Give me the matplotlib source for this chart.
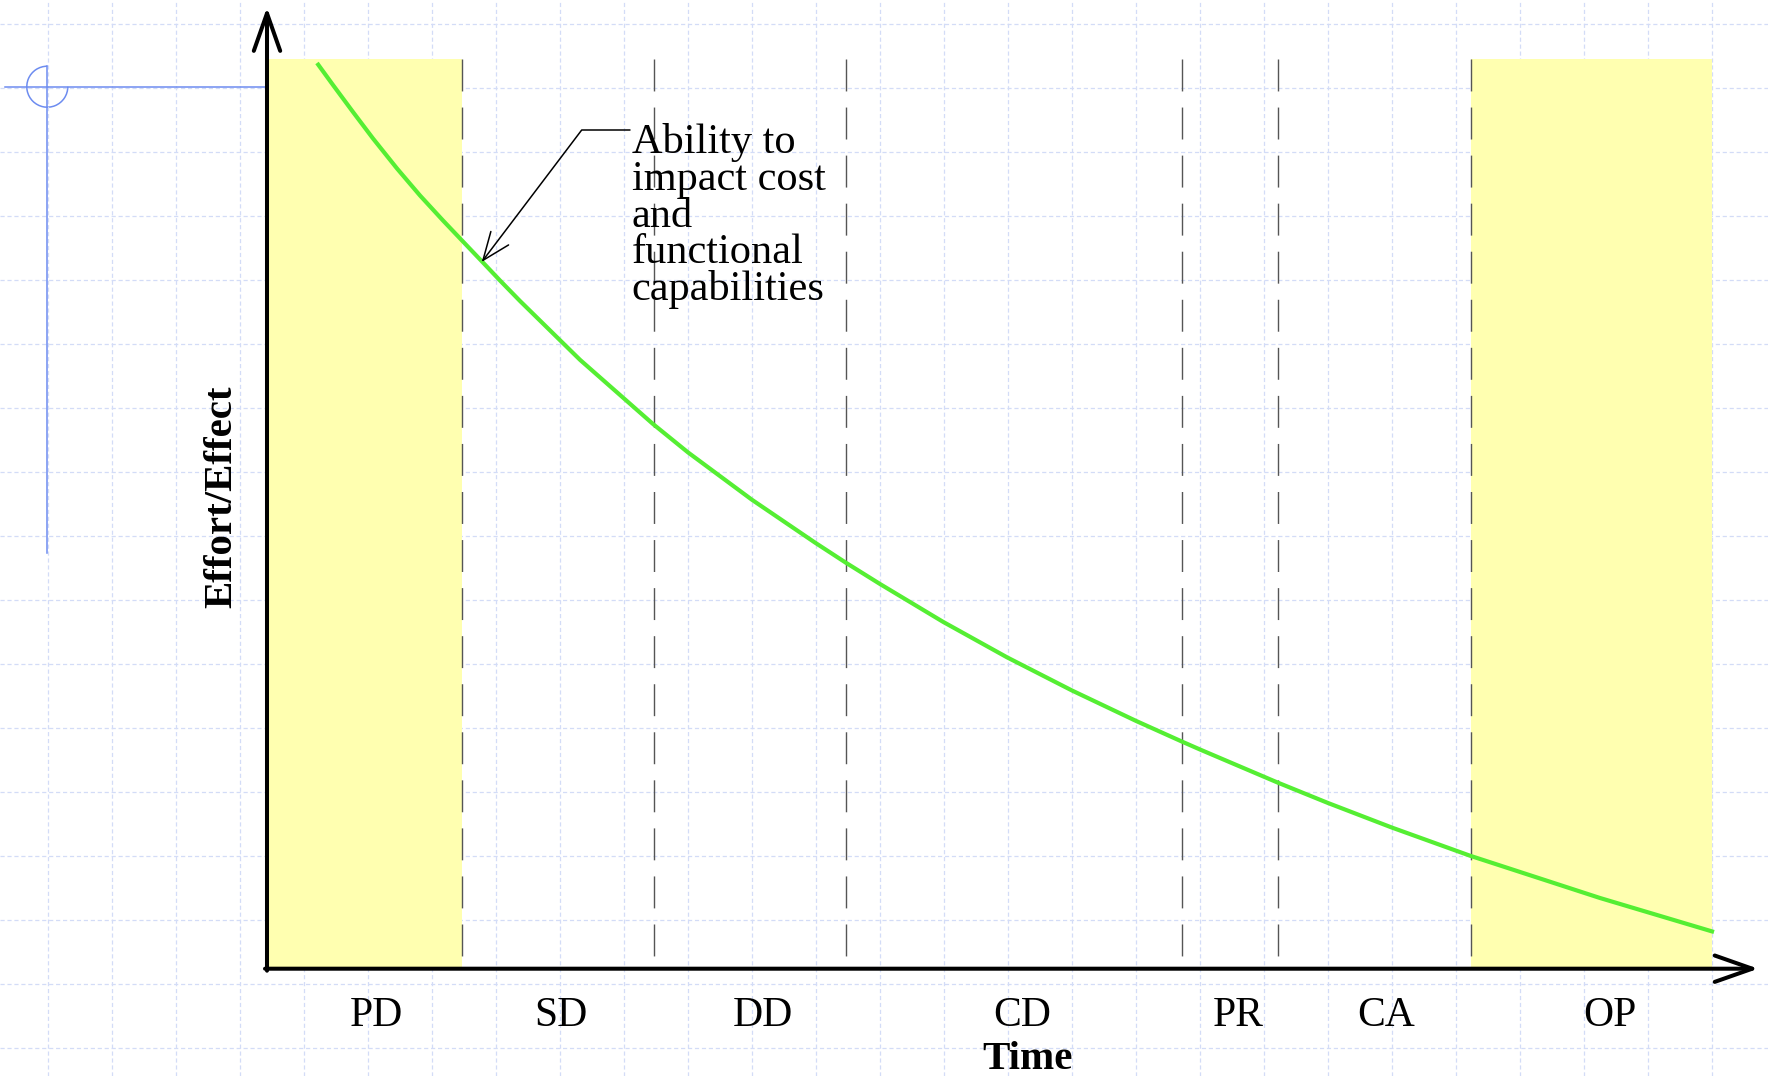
import numpy as np
import matplotlib
matplotlib.use("Agg")
import matplotlib.pyplot as plt
from matplotlib.patches import Arc

plt.rcParams['font.family'] = ['Liberation Serif', 'DejaVu Serif']
plt.rcParams['lines.scale_dashes'] = False

# ---------------- data ----------------
phases = ["PD", "SD", "DD", "CD", "PR", "CA", "OP"]
phase_label_x = [10.97, 29.40, 49.55, 75.55, 97.08, 111.88, 134.24]
phase_boundaries = [19.5, 38.7, 57.9, 91.5, 101.1, 120.4]
highlight_spans = [(0.0, 19.5), (120.4, 144.5)]
panel_top = 90.9
boundary_bottom = 1.1

curve_x = [5.0, 6.6, 8.6, 10.6, 13.0, 15.3, 17.6, 19.5, 21.5, 23.3, 25.3, 31.3,
           38.6, 42.1, 48.5, 54.8, 57.9, 61.3, 67.6, 74.0, 80.5, 86.9, 91.5,
           93.3, 101.1, 106.1, 112.5, 120.3, 133.3, 144.7]
curve_y = [90.5, 88.3, 85.6, 82.95, 79.95, 77.25, 74.75, 72.75, 70.65, 68.75, 66.7, 60.82,
           54.4, 51.56, 46.82, 42.54, 40.52, 38.4, 34.62, 31.07, 27.75, 24.71, 22.64,
           21.85, 18.53, 16.5, 14.04, 11.23, 7.0, 3.6]

annotation_lines = ["Ability to", "impact cost", "and", "functional", "capabilities"]
annotation_tip = (21.47, 70.6)
annotation_corner = (31.47, 83.8)
annotation_start = (36.3, 83.8)
annotation_text_pos = (36.47, 81.47)
annotation_line_step = 3.67

x_label = "Time"
y_label = "Effort/Effect"
x_axis_end = 149.13
y_axis_end = 96.07

# ---------------- figure ----------------
W, H, DPI = 1768, 1076, 100
fig = plt.figure(figsize=(W / DPI, H / DPI), dpi=DPI, facecolor='white')

# background drawing-paper grid
bg = fig.add_axes([0, 0, 1, 1], zorder=0)
bg.set_xlim(0, W)
bg.set_ylim(H, 0)
bg.set_xticks(np.arange(48, W, 64))
bg.set_yticks(np.arange(24, H, 64))
bg.grid(True, color='#d3dcf7', linestyle=(0, (3, 2)), linewidth=0.9)
bg.tick_params(length=0, labelbottom=False, labelleft=False)
for s in bg.spines.values():
    s.set_visible(False)

blue = '#6d8cf0'
bg.plot([5, 267], [86.7, 86.7], color=blue, lw=1.1)
bg.plot([47.3, 47.3], [65.5, 553], color=blue, lw=1.1)
bg.add_patch(Arc((47.3, 86.7), 41, 41, theta1=0, theta2=270, color=blue, lw=1.1))

# main chart axes (10 px per data unit in both directions)
ax = fig.add_axes([267 / W, (H - 968) / H, 1500 / W, 965 / H], zorder=1)
ax.set_xlim(0, 150)
ax.set_ylim(0, 96.5)
ax.patch.set_alpha(0)
for s in ax.spines.values():
    s.set_visible(False)

for x0, x1 in highlight_spans:
    ax.fill_between([x0, x1], 0, panel_top, color='#ffffb0', lw=0, zorder=1)

for xb in phase_boundaries:
    ax.plot([xb, xb], [panel_top, boundary_bottom], color='#555555', lw=1.0,
            linestyle=(0, (23.0, 11.6)), zorder=2)

ax.plot(curve_x, curve_y, color='#55ee33', lw=3.0, zorder=3,
        solid_capstyle='butt', solid_joinstyle='round')

# axes with open arrow heads
axis_style = dict(arrowstyle='->,head_length=2.7,head_width=0.95', mutation_scale=10,
                  lw=2.9, color='black', shrinkA=0, shrinkB=0)
ax.annotate('', xy=(x_axis_end, -0.07), xytext=(-0.2, -0.07),
            arrowprops=axis_style, annotation_clip=False, zorder=5)
ax.annotate('', xy=(0, y_axis_end), xytext=(0, -0.27),
            arrowprops=axis_style, annotation_clip=False, zorder=5)

# annotation leader
angB = np.degrees(np.arctan2(annotation_corner[1] - annotation_tip[1],
                             annotation_corner[0] - annotation_tip[0]))
ax.annotate('', xy=annotation_tip, xytext=annotation_start,
            arrowprops=dict(arrowstyle='->,head_length=2.0,head_width=0.8',
                            mutation_scale=10, lw=1.1, color='black',
                            shrinkA=0, shrinkB=0,
                            connectionstyle=f'angle,angleA=0,angleB={angB:.2f},rad=0'),
            annotation_clip=False, zorder=6)
for i, line in enumerate(annotation_lines):
    ax.text(annotation_text_pos[0], annotation_text_pos[1] - i * annotation_line_step,
            line, fontsize=30.5, ha='left', va='baseline', zorder=6)

# phase labels as tick labels
ax.set_xticks(phase_label_x)
ax.set_xticklabels(phases, fontsize=30, va='baseline')
ax.tick_params(axis='x', length=0, pad=41.8)
ax.set_yticks([])

ax.set_xlabel(x_label, fontsize=29.5, fontweight='bold')
ax.xaxis.set_label_coords(0.507, -0.1047)
ax.xaxis.label.set_va('baseline')
ax.set_ylabel(y_label, fontsize=29.5, fontweight='bold')
ax.yaxis.set_label_coords(-0.02353, 0.4884)
ax.yaxis.label.set_va('baseline')

fig.savefig('out.png', dpi=DPI, facecolor='white')
